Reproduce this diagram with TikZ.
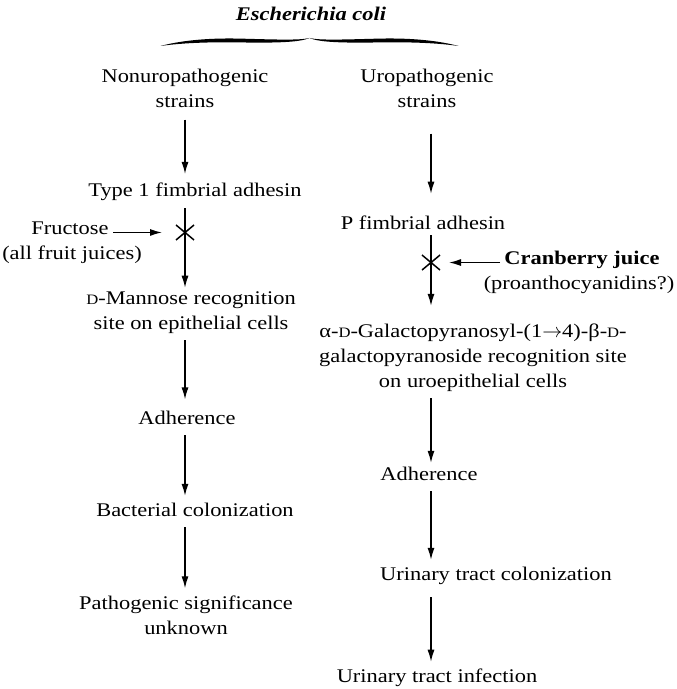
\documentclass[tikz,border=0pt]{standalone}
\usepackage{fontspec}
\setmainfont{Liberation Serif}[FakeStretch=1.16]
\usetikzlibrary{arrows.meta}

% small capital D
\newcommand\smallD{{\fontsize{7.2}{7.2}\selectfont D}}

\begin{document}
\begin{tikzpicture}[x=0.5bp, y=-0.5bp,
  font=\fontsize{9.7}{12.5}\selectfont,
  box/.style={align=center, inner sep=2bp},
  flow/.style={-{Latex[length=6bp,width=3.5bp]}, line width=0.65bp, shorten <=3bp, shorten >=1.5bp},
  block/.style={line width=0.75bp}]

  % frame of the picture
  \useasboundingbox (0,0) rectangle (677,689);

  % the two columns of arrows
  \coordinate (colL) at (185,0);
  \coordinate (colR) at (431,0);

  % title and its brace
  \node[box] (ecoli) at (311,14) {\bfseries\itshape Escherichia coli};
  \foreach \s in {1,-1} {
    \fill[shift={(309.5,38)}, xscale=\s] (-149,8) .. controls (-125,1.5) and (-95,0) .. (-70,0.6)
      .. controls (-35,1.5) and (-10,2.5) .. (0,0)
      .. controls (-10,4.5) and (-35,5) .. (-70,4.4)
      .. controls (-95,4) and (-125,4.5) .. (-149,8) -- cycle;
  }

  % left column
  \node[box] (nonuro) at (185,88) {Nonuropathogenic\\strains};
  \node[box] (type1) at (195,192) {Type 1 fimbrial adhesin};
  \node[box] (fructose) at (70,228) {Fructose};
  \node[box] (fruitjuice) at (72,255) {(all fruit juices)};
  \node[box] (mannose) at (191,313) {\smallD-Mannose recognition\\site on epithelial cells};
  \node[box] (adhL) at (187,418) {Adherence};
  \node[box] (bactcol) at (195,510) {Bacterial colonization};
  \node[box] (pathsig) at (186,615) {Pathogenic significance\\unknown};

  % right column
  \node[box] (uro) at (427,88) {Uropathogenic\\strains};
  \node[box] (pfim) at (423,223) {P fimbrial adhesin};
  \node[box] (cranberry) at (582,260) {\bfseries Cranberry juice};
  \node[box] (proantho) at (579,285) {(proanthocyanidins?)};
  \node[box] (galacto) at (473,358) {α-\smallD-Galactopyranosyl-(1$\rightarrow$4)-β-\smallD-\\galactopyranoside recognition site\\on uroepithelial cells};
  \node[box] (adhR) at (429,474) {Adherence};
  \node[box] (utcol) at (496,576) {Urinary tract colonization};
  \node[box] (utinf) at (437,678) {Urinary tract infection};

  % arrows down the left column
  \draw[flow, shorten <=4bp, shorten >=2.4bp] (nonuro.south -| colL) -- (type1.north -| colL);
  \draw[flow, shorten <=1.5bp, shorten >=0bp] (type1.south -| colL) -- (mannose.north -| colL);
  \draw[flow, shorten <=1bp, shorten >=3.7bp] (mannose.south -| colL) -- (adhL.north -| colL);
  \draw[flow] (adhL.south -| colL) -- (bactcol.north -| colL);
  \draw[flow] (bactcol.south -| colL) -- (pathsig.north -| colL);

  % arrows down the right column
  \draw[flow, shorten <=11bp, shorten >=9bp] (uro.south -| colR) -- (pfim.north -| colR);
  \draw[flow, shorten <=0.5bp, shorten >=7bp] (pfim.south -| colR) -- (galacto.north -| colR);
  \draw[flow, shorten <=1bp, shorten >=0bp] (galacto.south -| colR) -- (adhR.north -| colR);
  \draw[flow] (adhR.south -| colR) -- (utcol.north -| colR);
  \draw[flow, shorten <=4bp] (utcol.south -| colR) -- (utinf.north -| colR);

  % blocking marks
  \path (type1.south -| colL) -- (mannose.north -| colL) coordinate[pos=0.33] (xL);
  \path (pfim.south -| colR) -- (galacto.north -| colR) coordinate[pos=0.33] (xR);
  \draw[block] (xL) ++(-9,-7.5) -- ++(18,15) (xL) ++(-9,7.5) -- ++(18,-15);
  \draw[block] (xR) ++(-9,-7.5) -- ++(18,15) (xR) ++(-9,7.5) -- ++(18,-15);
  \draw[flow, shorten <=0bp, shorten >=11.5bp] (fructose.east |- xL) -- (xL);
  \draw[flow, shorten <=0bp, shorten >=9bp] (cranberry.west |- xR) -- (xR);

\end{tikzpicture}
\end{document}
